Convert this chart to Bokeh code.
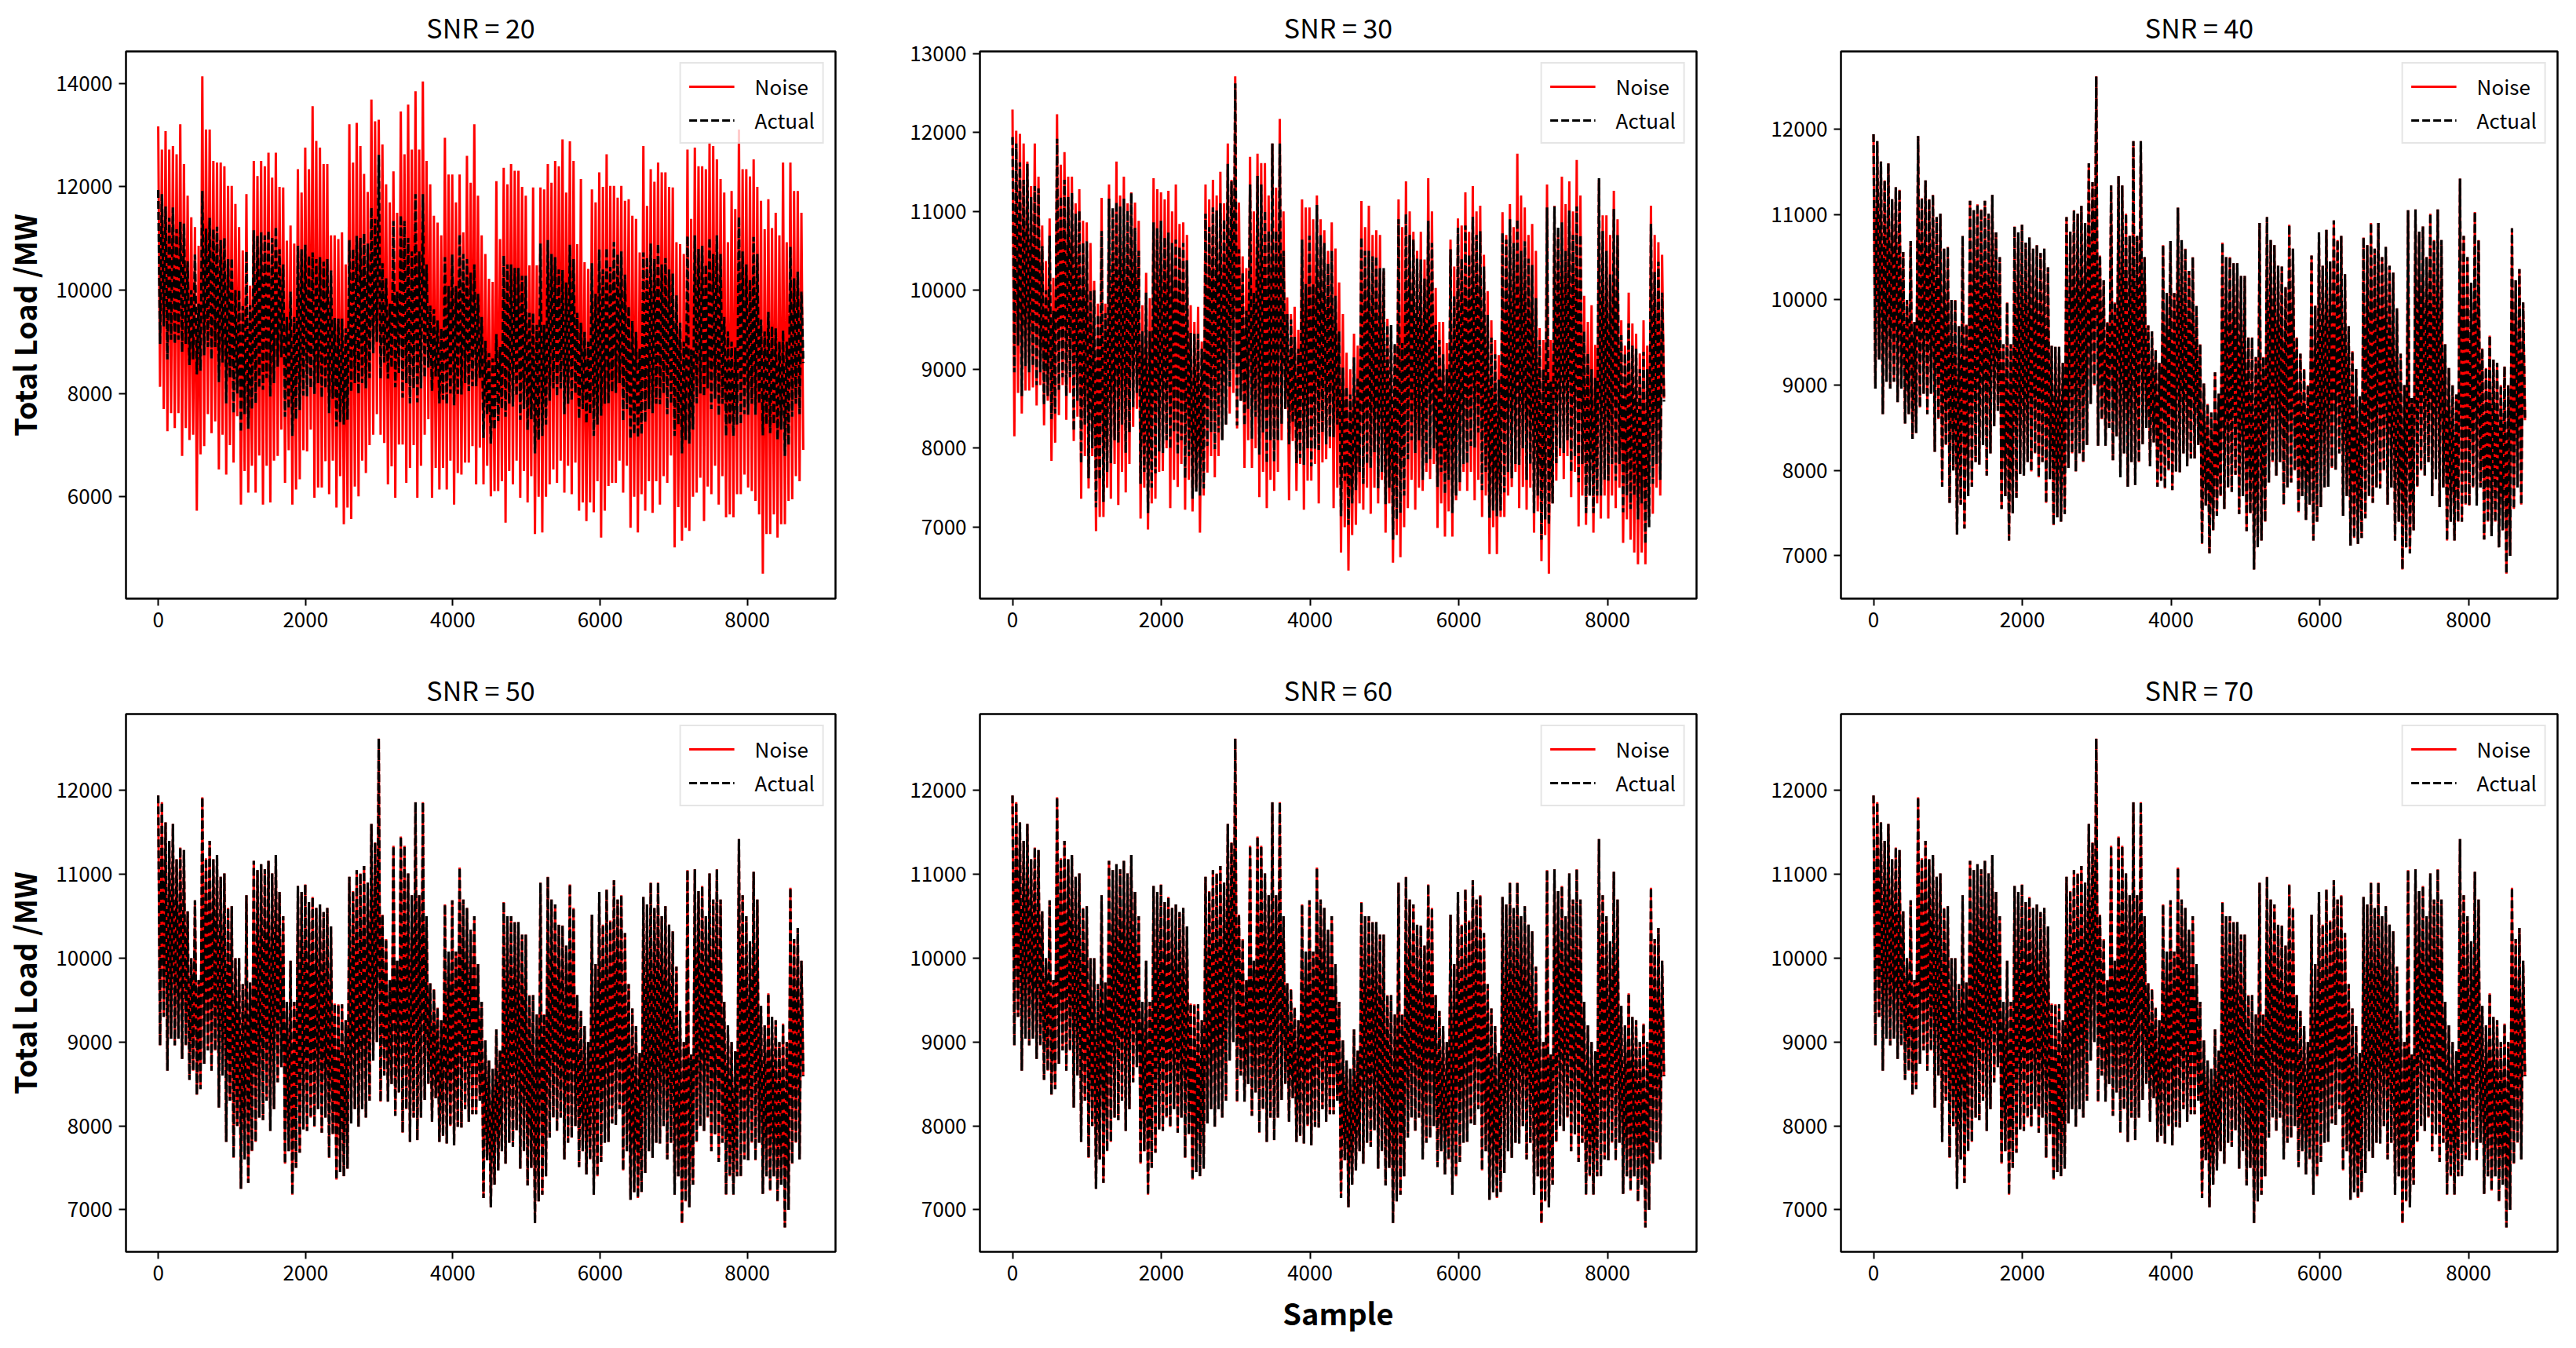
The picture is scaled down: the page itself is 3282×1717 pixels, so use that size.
import numpy as np
from bokeh.plotting import figure
from bokeh.layouts import column, row
from bokeh.models import Range1d, FixedTicker
from bokeh.embed import file_html
from bokeh.resources import INLINE

# ---------------- data ----------------
N_SAMPLES = 8760
snr_levels = [20, 30, 40, 50, 60, 70]
x_ticks = [0, 2000, 4000, 6000, 8000]
y_ticks_20 = [6000, 8000, 10000, 12000, 14000]
y_ticks_30 = [7000, 8000, 9000, 10000, 11000, 12000, 13000]
y_ticks_rest = [7000, 8000, 9000, 10000, 11000, 12000]

# actual load, per ~100-sample window: main peak, main trough, second peak, second trough
actual_hi = [11940, 11620, 11600, 11320, 10560, 10690, 11920, 11400, 11230, 11010,
             10620, 10000, 10750, 11160, 11120, 11160, 11230, 10500, 9970, 10860,
             10880, 10730, 10640, 10600, 9460, 9450, 10970, 11050, 11100, 11600,
             12620, 10230, 11340, 11450, 11010, 11860, 11860, 9700, 9410, 10640,
             10690, 11080, 10600, 10500, 9480, 8780, 9150, 10670, 10500, 10430,
             10280, 9560, 10900, 10970, 10640, 10390, 10880, 9560, 9190, 10520,
             10790, 10820, 10930, 10750, 9690, 9190, 10730, 10900, 10900, 10620,
             10320, 9370, 11050, 11060, 10860, 11010, 11060, 9480, 9000, 11420,
             10500, 11030, 9430, 9580, 9260, 9220, 10840, 10360]
actual_lo = [8960, 8660, 8960, 8800, 8550, 8370, 8740, 8660, 8220, 7810,
             7620, 7250, 7320, 7810, 8070, 7940, 8520, 7550, 7180, 7680,
             7940, 7990, 7920, 7620, 7360, 7400, 8030, 7990, 8100, 8780,
             8290, 8290, 8120, 7920, 7810, 7830, 8310, 8050, 7810, 7790,
             7770, 7980, 8050, 8140, 7140, 7030, 7470, 7550, 7750, 7490,
             7290, 6840, 7180, 7860, 7940, 7600, 7860, 7510, 7420, 7180,
             7570, 7810, 8010, 7470, 7120, 7140, 7440, 7620, 7790, 7600,
             7180, 6840, 7030, 7810, 7940, 7700, 7570, 7180, 7180, 7400,
             7590, 7590, 7190, 7230, 7100, 6790, 7550, 7600]
actual_hi2 = [11860, 11400, 11180, 11290, 10000, 9740, 11190, 11180, 10970, 10600,
              10000, 9690, 9710, 11050, 11060, 11010, 10790, 9480, 9480, 10790,
              10670, 10600, 10550, 10380, 9450, 9260, 10800, 11010, 10900, 11380,
              10520, 9740, 9970, 11340, 10750, 10750, 10500, 9630, 9260, 10080,
              10080, 10700, 10340, 9930, 9020, 8680, 8900, 10500, 10430, 10280,
              9560, 9330, 9330, 10700, 10400, 10150, 10600, 9370, 9000, 9930,
              10400, 10450, 10700, 10300, 9400, 8870, 10640, 10600, 10500, 10400,
              9900, 9000, 8850, 10800, 10500, 10700, 10700, 9200, 8890, 10750,
              10200, 10700, 9200, 9300, 9000, 9000, 10230, 9970]
actual_lo2 = [9300, 9040, 9040, 8960, 8660, 8440, 8900, 8900, 8600, 8300,
              8000, 7600, 7700, 8100, 8300, 8200, 8700, 7700, 7500, 7960,
              8100, 8200, 8100, 7900, 7450, 7490, 8200, 8200, 8300, 9000,
              8600, 8500, 8400, 8200, 8100, 8100, 8500, 8330, 7880, 8000,
              7990, 8200, 8140, 8300, 7590, 7300, 7700, 7800, 7950, 7700,
              7500, 7100, 7400, 8100, 8100, 7800, 8000, 7700, 7600, 7400,
              7800, 8030, 8200, 7700, 7210, 7210, 7700, 7800, 8000, 7800,
              7400, 7100, 7300, 8000, 8100, 7900, 7800, 7400, 7400, 7600,
              7800, 7800, 7400, 7400, 7300, 7000, 7800, 8590]

# noisy load, SNR = 20
noise20_hi = [13170, 13080, 12790, 13210, 11830, 11220, 14140, 13110, 12470, 12400,
              12020, 11220, 11860, 12500, 12500, 12660, 12660, 11990, 11250, 12340,
              12760, 13560, 12760, 12440, 11060, 11120, 13210, 13240, 12250, 13690,
              13300, 12050, 12300, 13460, 13590, 13850, 14040, 12050, 11310, 12950,
              12240, 12240, 12600, 13210, 11060, 10220, 12110, 12370, 12440, 12310,
              11830, 11990, 11990, 12440, 12500, 12920, 12880, 10890, 10540, 11950,
              12280, 12630, 12020, 12020, 11760, 11380, 12790, 12340, 12470, 12280,
              11990, 10890, 12720, 12760, 12400, 12850, 12530, 11890, 11920, 13110,
              12340, 12530, 11730, 11760, 11500, 12470, 12470, 11920]
noise20_lo = [8130, 7270, 7330, 6790, 7100, 5730, 6980, 7230, 6530, 6430,
              6660, 5850, 6080, 6080, 5850, 5890, 6790, 6270, 5850, 6340,
              6880, 5980, 6180, 6050, 5790, 5470, 5570, 6010, 6460, 7200,
              7200, 6240, 5980, 7010, 6560, 5980, 7200, 5980, 6140, 6140,
              5850, 6430, 6660, 6240, 6240, 6010, 6110, 5500, 6240, 5980,
              5890, 5280, 5310, 6240, 6270, 6080, 6050, 5730, 5530, 5700,
              5210, 6210, 6270, 6080, 5400, 5310, 5730, 5690, 5850, 6270,
              5020, 5150, 5340, 6080, 5530, 6050, 5850, 5600, 5600, 6050,
              6180, 5920, 4510, 5280, 5210, 5470, 5950, 6300]
noise20_hi2 = [12720, 12720, 12630, 12440, 11410, 10860, 13110, 12500, 12470, 12020,
               11670, 10770, 10090, 12210, 12400, 12180, 12000, 10960, 10900, 11890,
               12340, 12890, 12440, 11060, 10990, 10500, 12470, 12790, 11900, 13270,
               12820, 11700, 11500, 12630, 12720, 12720, 12500, 11440, 11060, 12240,
               11700, 11120, 12080, 11830, 10700, 10160, 10990, 12050, 12310, 12000,
               10480, 10480, 11950, 12080, 12400, 11890, 12500, 12150, 10410, 11700,
               12000, 12020, 11790, 11730, 11440, 10730, 11630, 12100, 12280, 12000,
               10930, 10700, 11380, 12400, 12340, 12790, 12150, 10930, 11570, 12340,
               12200, 12000, 11180, 11200, 11060, 10930, 11920, 11500]
noise20_lo2 = [7700, 7620, 7620, 7330, 7200, 6820, 7600, 7460, 7200, 7000,
               7560, 6500, 6600, 6800, 6600, 6700, 7300, 6900, 6140, 6900,
               7300, 6180, 6690, 6700, 6400, 5790, 6200, 6700, 7000, 7600,
               7040, 6590, 7010, 6270, 7000, 6600, 7500, 6560, 6560, 6700,
               6460, 6660, 6980, 6950, 6600, 6110, 6300, 6500, 6700, 6500,
               6400, 6000, 6000, 6530, 6700, 6600, 6660, 5890, 5890, 6300,
               5730, 6270, 6700, 6600, 6000, 6050, 6300, 6300, 6400, 6800,
               5800, 5400, 6000, 6370, 6200, 6600, 6400, 5660, 6050, 6430,
               6110, 5660, 5280, 5660, 5470, 5920, 6400, 6910]

# noisy load, SNR = 30
noise30_hi = [12290, 11980, 11630, 11860, 10820, 10910, 12230, 11750, 11440, 11280,
              10860, 10120, 11170, 11340, 11630, 11440, 11240, 10880, 10220, 11420,
              11240, 11260, 11340, 10860, 9810, 9790, 11340, 11400, 11500, 11860,
              12710, 10430, 11690, 11730, 11610, 11860, 12170, 9910, 9790, 11150,
              11050, 11200, 10760, 10860, 10100, 9210, 9450, 11130, 11070, 10760,
              10240, 9410, 11150, 11380, 10740, 10740, 11420, 10030, 9600, 10640,
              10910, 11240, 11320, 11070, 9990, 9370, 10990, 11090, 11730, 11050,
              10840, 9520, 11340, 11070, 11440, 11380, 11650, 9930, 9810, 11400,
              10950, 11260, 9620, 9970, 9450, 9620, 11070, 10610]
noise30_lo = [8150, 8440, 8730, 8540, 8290, 7840, 8420, 8360, 8090, 7360,
              7490, 6950, 7130, 7360, 7280, 7440, 8270, 7110, 6970, 7360,
              7710, 7240, 7510, 7220, 7200, 6930, 7690, 7630, 8110, 8440,
              8250, 7750, 7750, 7380, 7240, 7460, 8100, 7340, 7460, 7220,
              7590, 7300, 7860, 7240, 6680, 6450, 7030, 7220, 7170, 7300,
              6930, 6550, 6620, 7240, 7220, 7460, 7610, 6990, 6880, 6880,
              7460, 7460, 7340, 7130, 6660, 6660, 7130, 7510, 7240, 7220,
              6930, 6570, 6410, 7590, 7610, 7380, 7010, 7030, 6930, 7110,
              7110, 7240, 6800, 6840, 6530, 6530, 7170, 7400]
noise30_hi2 = [12020, 11860, 11320, 11440, 10370, 10160, 11590, 11440, 11100, 10880,
               10600, 9830, 9830, 11000, 11200, 11100, 11110, 9810, 9900, 11280,
               11150, 11000, 10840, 10700, 9600, 9350, 11150, 11200, 11100, 11400,
               11110, 10280, 11000, 11610, 11200, 11300, 11000, 9700, 9500, 11050,
               10900, 10900, 10500, 10530, 9700, 9000, 9300, 10800, 10700, 10700,
               9640, 9300, 10800, 11000, 10500, 10390, 11000, 9600, 9330, 10300,
               10820, 10740, 11000, 10450, 9620, 9180, 10700, 10800, 11200, 10700,
               10500, 9370, 9370, 10700, 11090, 11000, 11200, 9600, 9310, 10950,
               10700, 10900, 9300, 9580, 9200, 9300, 10700, 10450]
noise30_lo2 = [8700, 8730, 8770, 8800, 8600, 8070, 8800, 8700, 8400, 7900,
               7900, 7130, 7500, 7800, 7700, 7800, 8500, 7500, 7300, 7700,
               8000, 7600, 7800, 7600, 7500, 7400, 7900, 7900, 8300, 8700,
               8600, 8100, 8000, 7700, 7600, 7700, 8500, 8090, 7800, 7590,
               7800, 7820, 8000, 7500, 7000, 6900, 7300, 7500, 7500, 7600,
               7300, 6900, 7000, 7600, 7500, 7700, 7800, 7300, 7200, 7340,
               7700, 7700, 7600, 7400, 7000, 7130, 7400, 7700, 7510, 7500,
               7200, 6900, 7300, 7900, 7900, 7700, 7400, 7400, 7300, 7400,
               7400, 7500, 7100, 6680, 6680, 7130, 7500, 8630]

# ---------------- build ----------------
FONT = "Noto Sans CJK SC"


def interleave(hi, lo, hi2, lo2):
    out = []
    for a, b, c, d in zip(hi, lo, hi2, lo2):
        out.extend([a, b, c, d])
    return out


actual = interleave(actual_hi, actual_lo, actual_hi2, actual_lo2)
noise_series = {
    20: interleave(noise20_hi, noise20_lo, noise20_hi2, noise20_lo2),
    30: interleave(noise30_hi, noise30_lo, noise30_hi2, noise30_lo2),
    40: actual, 50: actual, 60: actual, 70: actual,   # visually coincident with actual
}
y_ticks = {20: y_ticks_20, 30: y_ticks_30, 40: y_ticks_rest,
           50: y_ticks_rest, 60: y_ticks_rest, 70: y_ticks_rest}

W_L, W_F, W_R = 151, 913, 33
H_T, H_F, H_B1, H_B2 = 60, 702, 82, 95

figs = []
for k, snr in enumerate(snr_levels):
    r, c = divmod(k, 3)
    right = W_R if c < 2 else 8
    bottom = H_B1 if r == 0 else H_B2
    noise = noise_series[snr]
    xs = np.linspace(0, N_SAMPLES - 1, len(actual))
    lo_v = min(min(noise), min(actual))
    hi_v = max(max(noise), max(actual))
    pad = 0.05 * (hi_v - lo_v)
    xpad = 0.05 * (N_SAMPLES - 1)
    p = figure(width=W_L + W_F + right, height=H_T + H_F + bottom,
               output_backend="svg", toolbar_location=None,
               x_range=Range1d(-xpad, N_SAMPLES - 1 + xpad),
               y_range=Range1d(lo_v - pad, hi_v + pad),
               min_border_left=W_L, min_border_right=right,
               min_border_top=H_T, min_border_bottom=bottom,
               title=f"SNR = {snr}")
    p.line(xs, noise, line_color="red", line_width=3.0, legend_label="Noise")
    p.line(xs, actual, line_color="black", line_width=3.2, line_dash="10 4",
           legend_label="Actual")

    p.background_fill_color = "white"
    p.border_fill_color = "white"
    p.outline_line_color = "black"
    p.outline_line_width = 2.5
    p.xgrid.grid_line_color = None
    p.ygrid.grid_line_color = None

    p.title.text_font = FONT
    p.title.text_font_size = "34px"
    p.title.text_font_style = "normal"
    p.title.text_color = "black"
    p.title.align = "center"
    p.title.standoff = 14

    p.xaxis.ticker = FixedTicker(ticks=x_ticks)
    p.yaxis.ticker = FixedTicker(ticks=y_ticks[snr])
    for ax in (p.xaxis[0], p.yaxis[0]):
        ax.axis_line_color = None
        ax.major_tick_line_color = "black"
        ax.major_tick_line_width = 2
        ax.major_tick_out = 9
        ax.major_tick_in = 0
        ax.minor_tick_out = 0
        ax.minor_tick_in = 0
        ax.major_label_text_font = FONT
        ax.major_label_text_font_size = "26px"
        ax.major_label_text_color = "black"
        ax.major_label_standoff = 8
        ax.axis_label_text_font = FONT
        ax.axis_label_text_font_size = "38px"
        ax.axis_label_text_font_style = "bold"
        ax.axis_label_text_color = "black"
        ax.axis_label_standoff = 10
    if c == 0:
        p.yaxis.axis_label = "Total Load /MW"
    if r == 1 and c == 1:
        p.xaxis.axis_label = "Sample"

    lg = p.legend[0]
    lg.location = "top_right"
    lg.margin = 14
    lg.padding = 10
    lg.spacing = 6
    lg.glyph_width = 58
    lg.glyph_height = 30
    lg.label_height = 30
    lg.label_standoff = 26
    lg.label_text_font = FONT
    lg.label_text_font_size = "26px"
    lg.label_text_color = "black"
    lg.border_line_color = "#cccccc"
    lg.border_line_width = 2
    lg.background_fill_alpha = 0.8
    figs.append(p)

layout = column(row(*figs[:3]), row(*figs[3:]))
open("out.html", "w").write(file_html(layout, INLINE))
